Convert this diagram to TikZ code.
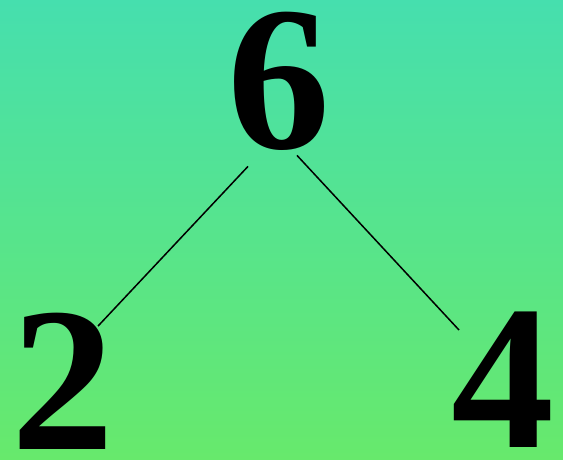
\documentclass[tikz,border=0pt]{standalone}
\usepackage{fontspec}
\setmainfont{Liberation Serif}
\definecolor{topgreen}{RGB}{70, 223, 174}
\definecolor{bottomgreen}{RGB}{103, 233, 108}
\usepackage{tikz}
\usetikzlibrary{positioning}

\begin{document}
\begin{tikzpicture}[
					x=1pt, y=1pt,
					digit/.style={inner sep=0pt, font=\fontsize{206}{206}\selectfont\bfseries},
					edge/.style={line width=1.5pt, black}
					]
					\shade[top color=topgreen, bottom color=bottomgreen] (0,0) rectangle (563,459);
					\useasboundingbox (0,0) rectangle (563,459);
					
					\node[digit] (six)  at (278.5,378) {6};
					\node[digit] (two)  at (63.5,78)   {2};
					\node[digit] (four) at (502.5,79)  {4};
					
					\draw[edge] ([xshift=-30.5pt,yshift=-16pt]six.south) -- ([xshift=34.5pt,yshift=-13.5pt]two.north);
					\draw[edge] ([xshift=18.5pt,yshift=-5pt]six.south)   -- ([xshift=-43.5pt,yshift=-18pt]four.north);
				\end{tikzpicture}
\end{document}
